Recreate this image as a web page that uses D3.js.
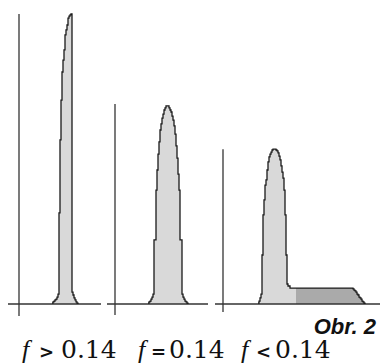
<!DOCTYPE html>
<html>
<head>
<meta charset="utf-8">
<script src="https://cdn.jsdelivr.net/npm/d3@7"></script>
<style>
  body { margin: 0; background: #fff; }
  svg { display: block; }
</style>
</head>
<body>
<div class="canvas"></div>
<script>
// step histograms: [bin start, relative frequency %]
const distHigh = [
    [33, 0.3], [34, 0.7], [35, 1.0], [36, 1.4], [37, 1.7], [38, 2.4], [39, 3.4],
    [40, 31.4], [41, 56.6], [42, 70.3], [43, 80.0], [44, 84.1], [45, 87.6],
    [46, 92.8], [47, 94.5], [48, 96.2], [49, 98.6], [50, 99.3], [51, 99.7],
    [52, 100], [53, 4.1], [54, 3.1], [55, 2.1], [56, 1.4], [57, 0.7], [58, 0.3],
    [59, 0]
]
const distEqual = [
    [33, 0.3], [34, 0.7], [35, 1.0], [36, 1.7], [37, 2.4], [38, 3.4],
    [39, 22.1], [40, 22.1], [41, 39.3], [42, 46.2], [43, 51.7], [44, 55.9],
    [45, 60.0], [46, 62.1], [47, 64.1], [48, 65.5], [49, 66.9], [50, 67.6],
    [51, 68.3], [52, 68.3], [53, 68.3], [54, 67.6], [55, 66.9], [56, 66.2],
    [57, 64.8], [58, 63.4], [59, 61.4], [60, 58.6], [61, 54.5], [62, 50.3],
    [63, 44.8], [64, 39.3], [65, 22.1], [66, 22.1], [67, 3.4], [68, 2.4],
    [69, 1.7], [70, 1.0], [71, 0.7], [72, 0.3], [73, 0]
]
const distLow = [
    [35, 0.3], [36, 1.0], [37, 2.1], [38, 3.4], [39, 16.9], [40, 30.7],
    [41, 35.9], [42, 41.0], [43, 42.8], [44, 46.2], [45, 49.0], [46, 50.7],
    [47, 51.7], [48, 52.4], [49, 53.1], [50, 53.4], [51, 53.4], [52, 53.4],
    [53, 53.1], [54, 52.8], [55, 52.1], [56, 51.0], [57, 49.7], [58, 47.6],
    [59, 45.5], [60, 43.4], [61, 39.3], [62, 30.7], [63, 16.9], [64, 6.9],
    [65, 6.2], [67, 5.5], [130, 5.2], [131, 4.8], [132, 4.5], [133, 4.1],
    [134, 3.4], [135, 3.1], [136, 2.4], [137, 2.1], [138, 1.7], [139, 1.0],
    [140, 0.7], [141, 0.3], [142, 0]
]

const relations = [">", "=", "<"]
const threshold = "0.14"
const figLabel = "Obr. 2"

const width = 382
const height = 363

const svg = d3.select(".canvas").append("svg")
    .attr("width", width)
    .attr("height", height)

const y = d3.scaleLinear()
    .domain([0, 100])
    .range([304, 14])

const panels = [
    { data: distHigh, axisX: 19, top: 100, bottom: -4.1, left: -11, right: 82, labelX: 22, relDx: 17, numDx: 39 },
    { data: distEqual, axisX: 115, top: 69, bottom: -3.8, left: -8, right: 93, labelX: 138, relDx: 13, numDx: 31 },
    { data: distLow, axisX: 223, top: 53.4, bottom: -2.8, left: -8, right: 157, labelX: 241, relDx: 15, numDx: 34, splitAt: 73 }
]

const area = (x) => d3.area()
    .x(d => x(d[0]))
    .y0(y(0))
    .y1(d => y(d[1]))
    .curve(d3.curveStepAfter)

const outline = (x) => d3.line()
    .x(d => x(d[0]))
    .y(d => y(d[1]))
    .curve(d3.curveStepAfter)

panels.forEach((p, i) => {
    const x = d3.scaleLinear()
        .domain([0, 100])
        .range([p.axisX, p.axisX + 100])

    const g = svg.append("g")

    // light fill
    g.append("path")
        .datum(p.data)
        .attr("d", area(x))
        .attr("fill", "#d9d9d9")

    // darker tail for the f < 0.14 case
    if (p.splitAt) {
        svg.append("clipPath")
            .attr("id", "tail" + i)
            .append("rect")
            .attr("x", x(p.splitAt))
            .attr("y", 0)
            .attr("width", width - x(p.splitAt))
            .attr("height", height)
        g.append("path")
            .datum(p.data)
            .attr("d", area(x))
            .attr("fill", "#aaaaaa")
            .attr("clip-path", `url(#tail${i})`)
    }

    // axes
    g.append("line")
        .attr("x1", x(p.left))
        .attr("x2", x(p.right))
        .attr("y1", y(0))
        .attr("y2", y(0))
        .attr("stroke", "#333")
        .attr("stroke-width", 1.3)
    g.append("line")
        .attr("x1", x(0))
        .attr("x2", x(0))
        .attr("y1", y(p.top))
        .attr("y2", y(p.bottom))
        .attr("stroke", "#333")
        .attr("stroke-width", 1.3)

    g.append("path")
        .datum(p.data)
        .attr("d", outline(x))
        .attr("fill", "none")
        .attr("stroke", "#1a1a1a")
        .attr("stroke-width", 1.3)

    // label under the panel
    const t = svg.append("text")
        .attr("x", p.labelX)
        .attr("y", 358)
        .attr("font-family", "DejaVu Serif")
        .attr("font-size", 25)
        .attr("fill", "#111")
    t.append("tspan")
        .attr("font-family", "Liberation Serif")
        .attr("font-style", "italic")
        .attr("font-size", 26)
        .text("f")
    t.append("tspan")
        .attr("x", p.labelX + p.relDx)
        .attr("font-family", "DejaVu Sans")
        .attr("font-weight", "bold")
        .attr("font-size", 18)
        .text(relations[i])
    t.append("tspan")
        .attr("x", p.labelX + p.numDx)
        .text(threshold)
})

svg.append("text")
    .attr("x", 376)
    .attr("y", 334)
    .attr("text-anchor", "end")
    .attr("font-family", "Liberation Sans, Arial, sans-serif")
    .attr("font-weight", "bold")
    .attr("font-style", "italic")
    .attr("font-size", 22)
    .attr("fill", "#111")
    .text(figLabel)
</script>
</body>
</html>
